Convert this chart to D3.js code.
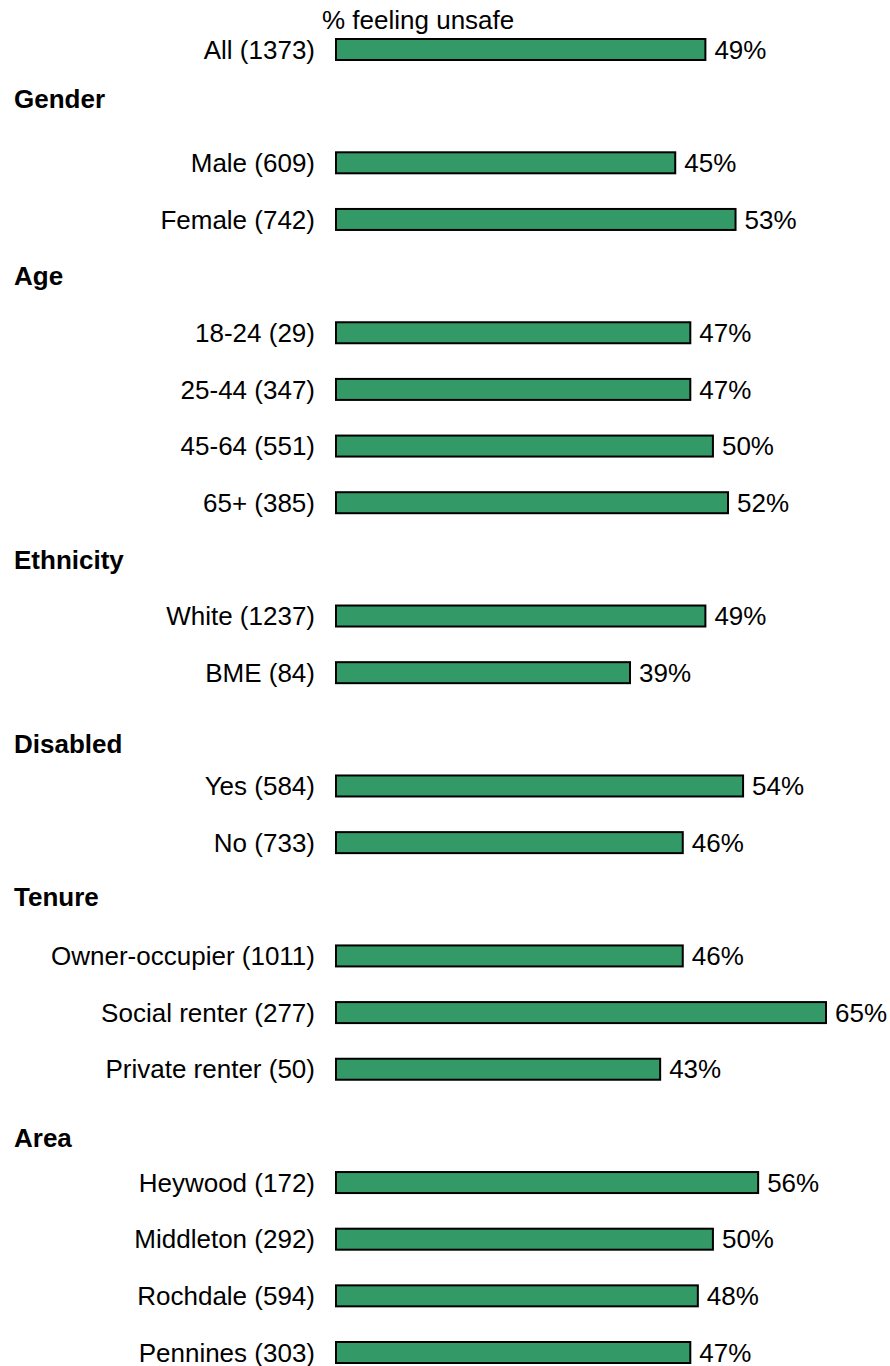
<!DOCTYPE html>
<html>
<head>
<meta charset="utf-8">
<script src="https://cdn.jsdelivr.net/npm/d3@7"></script>
<style>
  body { margin: 0; background: #fff; }
  text { font-family: "Liberation Sans", Arial, sans-serif; fill: #000; }
</style>
</head>
<body>
<div id="chart"></div>
<script>
// data
var labels = ["All (1373)",
  "Male (609)", "Female (742)",
  "18-24 (29)", "25-44 (347)", "45-64 (551)", "65+ (385)",
  "White (1237)", "BME (84)",
  "Yes (584)", "No (733)",
  "Owner-occupier (1011)", "Social renter (277)", "Private renter (50)",
  "Heywood (172)", "Middleton (292)", "Rochdale (594)", "Pennines (303)"];
var values = [49, 45, 53, 47, 47, 50, 52, 49, 39, 54, 46, 46, 65, 43, 56, 50, 48, 47];
var groups = ["", "Gender", "Gender", "Age", "Age", "Age", "Age",
  "Ethnicity", "Ethnicity", "Disabled", "Disabled",
  "Tenure", "Tenure", "Tenure", "Area", "Area", "Area", "Area"];
var title = "% feeling unsafe";

// layout
var width = 890, height = 1366;
var headerNudge = {"Gender": -7, "Age": 0, "Ethnicity": 1, "Disabled": 15, "Tenure": -2, "Area": 12};

// build slots: each new group gets a header slot
var rows = [], headers = [], slot = 0, prev = "";
labels.forEach(function(l, i) {
  if (groups[i] && groups[i] !== prev) {
    headers.push({name: groups[i], slot: slot});
    slot++;
  }
  prev = groups[i];
  rows.push({label: l, value: values[i], slot: slot});
  slot++;
});

var svg = d3.select("#chart")
  .append("svg")
    .attr("width", width)
    .attr("height", height);

var y = d3.scaleLinear()
  .domain([0, slot - 1])
  .range([49.5, 1352.5]);

var x = d3.scaleLinear()
  .domain([0, 65])
  .range([336, 826]);

var barH = 21;

// title
svg.append("text")
  .attr("x", 322)
  .attr("y", 29)
  .style("font-size", "26px")
  .text(title);

// group headers
svg.selectAll(".header")
  .data(headers)
  .enter()
  .append("text")
    .attr("class", "header")
    .attr("x", 14)
    .attr("y", d => y(d.slot) + headerNudge[d.name])
    .attr("dy", "0.35em")
    .style("font-size", "26px")
    .style("font-weight", "bold")
    .text(d => d.name);

// bars
svg.append("g")
  .selectAll("rect")
  .data(rows)
  .enter()
  .append("rect")
    .attr("x", x(0))
    .attr("y", d => y(d.slot) - barH / 2)
    .attr("width", d => x(d.value) - x(0))
    .attr("height", barH)
    .style("fill", "#339966")
    .style("stroke", "#000")
    .style("stroke-width", 2);

// category labels
svg.append("g")
  .selectAll("text")
  .data(rows)
  .enter()
  .append("text")
    .attr("x", 315)
    .attr("y", d => y(d.slot))
    .attr("dy", "0.35em")
    .attr("text-anchor", "end")
    .style("font-size", "26px")
    .text(d => d.label);

// value labels
svg.append("g")
  .selectAll("text")
  .data(rows)
  .enter()
  .append("text")
    .attr("x", d => x(d.value) + 9)
    .attr("y", d => y(d.slot))
    .attr("dy", "0.35em")
    .style("font-size", "26px")
    .text(d => d.value + "%");
</script>
</body>
</html>
